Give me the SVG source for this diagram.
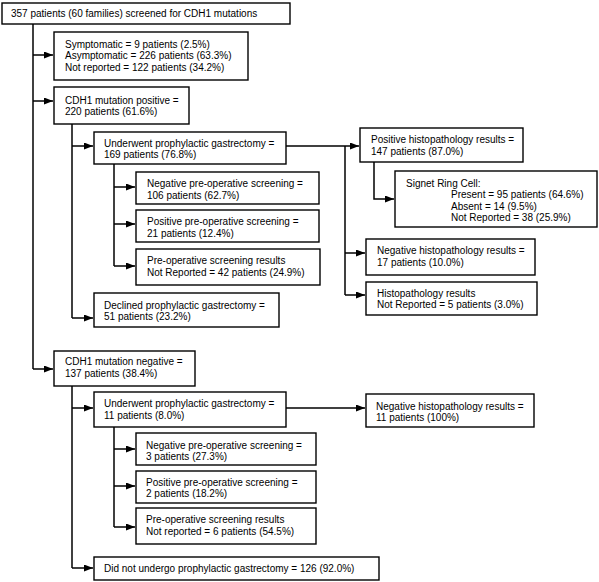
<svg xmlns="http://www.w3.org/2000/svg" width="599" height="582" viewBox="0 0 599 582">
<style>
rect.b{fill:#fff;stroke:#000;stroke-width:1.4}
text{font-family:"Liberation Sans",Arial,sans-serif;font-size:10px;fill:#000}
.c path{fill:none;stroke:#000;stroke-width:1.5}
</style>
<defs>
<marker id="ah" markerUnits="userSpaceOnUse" markerWidth="10" markerHeight="8" refX="9" refY="3.5" orient="auto"><path d="M0,0 L9,3.5 L0,7 z" fill="#000"/></marker>
</defs>
<rect width="599" height="582" fill="#fff"/>
<g class="c" id="connectors">
<path d="M33,24 V369"/>
<path d="M33,55 H53" marker-end="url(#ah)"/>
<path d="M33,101 H53" marker-end="url(#ah)"/>
<path d="M33,369 H53" marker-end="url(#ah)"/>
<path d="M72,124 V318"/>
<path d="M72,146 H93" marker-end="url(#ah)"/>
<path d="M72,318 H93" marker-end="url(#ah)"/>
<path d="M114,164 V266"/>
<path d="M114,187 H135" marker-end="url(#ah)"/>
<path d="M114,224 H135" marker-end="url(#ah)"/>
<path d="M114,266 H135" marker-end="url(#ah)"/>
<path d="M286,146 H359" marker-end="url(#ah)"/>
<path d="M345,146 V295"/>
<path d="M345,253 H365" marker-end="url(#ah)"/>
<path d="M345,295 H365" marker-end="url(#ah)"/>
<path d="M374,162 V199 H394" marker-end="url(#ah)"/>
<path d="M72,386 V568"/>
<path d="M72,408 H93" marker-end="url(#ah)"/>
<path d="M72,568 H93" marker-end="url(#ah)"/>
<path d="M114,427 V527"/>
<path d="M114,449 H135" marker-end="url(#ah)"/>
<path d="M114,486 H135" marker-end="url(#ah)"/>
<path d="M114,527 H135" marker-end="url(#ah)"/>
<path d="M286,408 H365" marker-end="url(#ah)"/>
</g>
<g id="n-screened"><rect class="b" x="2" y="3" width="288" height="21"/><text x="11" y="16.5">357 patients (60 families) screened for CDH1 mutations</text></g>
<g id="n-symptom"><rect class="b" x="54" y="32" width="194" height="48"/><text x="65" y="47.5">Symptomatic = 9 patients (2.5%)</text><text x="65" y="59">Asymptomatic = 226 patients (63.3%)</text><text x="65" y="70.5">Not reported = 122 patients (34.2%)</text></g>
<g id="n-pos"><rect class="b" x="54" y="87" width="135" height="37"/><text x="65" y="103.5">CDH1 mutation positive =</text><text x="65" y="115">220 patients (61.6%)</text></g>
<g id="n-pos-under"><rect class="b" x="94" y="132" width="192" height="32"/><text x="104" y="146.5">Underwent prophylactic gastrectomy =</text><text x="104" y="158">169 patients (76.8%)</text></g>
<g id="n-pos-negpre"><rect class="b" x="136" y="172" width="183" height="32"/><text x="147" y="187">Negative pre-operative screening =</text><text x="147" y="198.5">106 patients (62.7%)</text></g>
<g id="n-pos-pospre"><rect class="b" x="136" y="210" width="183" height="32"/><text x="147" y="225">Positive pre-operative screening =</text><text x="147" y="237">21 patients (12.4%)</text></g>
<g id="n-pos-nrpre"><rect class="b" x="136" y="249" width="184" height="36"/><text x="147" y="263.5">Pre-operative screening results</text><text x="147" y="275.5">Not Reported = 42 patients (24.9%)</text></g>
<g id="n-pos-declined"><rect class="b" x="94" y="293" width="185" height="34"/><text x="104" y="309">Declined prophylactic gastrectomy =</text><text x="104" y="320">51 patients (23.2%)</text></g>
<g id="n-poshisto"><rect class="b" x="360" y="128" width="163" height="34"/><text x="371" y="143">Positive histopathology results =</text><text x="371" y="155">147 patients (87.0%)</text></g>
<g id="n-signet"><rect class="b" x="395" y="171" width="202" height="56"/><text x="406" y="186.5">Signet Ring Cell:</text><text x="451" y="198">Present = 95 patients (64.6%)</text><text x="451" y="209.5">Absent = 14 (9.5%)</text><text x="451" y="221">Not Reported = 38 (25.9%)</text></g>
<g id="n-neghisto"><rect class="b" x="366" y="239" width="169" height="36"/><text x="377" y="254">Negative histopathology results =</text><text x="377" y="266">17 patients (10.0%)</text></g>
<g id="n-nrhisto"><rect class="b" x="366" y="282" width="171" height="33"/><text x="377" y="297">Histopathology results</text><text x="377" y="308">Not Reported = 5 patients (3.0%)</text></g>
<g id="n-neg"><rect class="b" x="54" y="351" width="141" height="35"/><text x="65" y="365">CDH1 mutation negative =</text><text x="65" y="376.5">137 patients (38.4%)</text></g>
<g id="n-neg-under"><rect class="b" x="94" y="392" width="192" height="35"/><text x="104" y="407">Underwent prophylactic gastrectomy =</text><text x="104" y="418.5">11 patients (8.0%)</text></g>
<g id="n-neg-neghisto"><rect class="b" x="366" y="394" width="168" height="33"/><text x="376" y="409.5">Negative histopathology results =</text><text x="376" y="420.5">11 patients (100%)</text></g>
<g id="n-neg-negpre"><rect class="b" x="136" y="433" width="180" height="32"/><text x="146" y="448.5">Negative pre-operative screening =</text><text x="146" y="459.5">3 patients (27.3%)</text></g>
<g id="n-neg-pospre"><rect class="b" x="136" y="471" width="180" height="32"/><text x="146" y="486">Positive pre-operative screening =</text><text x="146" y="497">2 patients (18.2%)</text></g>
<g id="n-neg-nrpre"><rect class="b" x="136" y="508" width="180" height="36"/><text x="146" y="523">Pre-operative screening results</text><text x="146" y="534.5">Not reported = 6 patients (54.5%)</text></g>
<g id="n-neg-none"><rect class="b" x="94" y="557" width="285" height="23"/><text x="104" y="572">Did not undergo prophylactic gastrectomy = 126 (92.0%)</text></g>
</svg>
